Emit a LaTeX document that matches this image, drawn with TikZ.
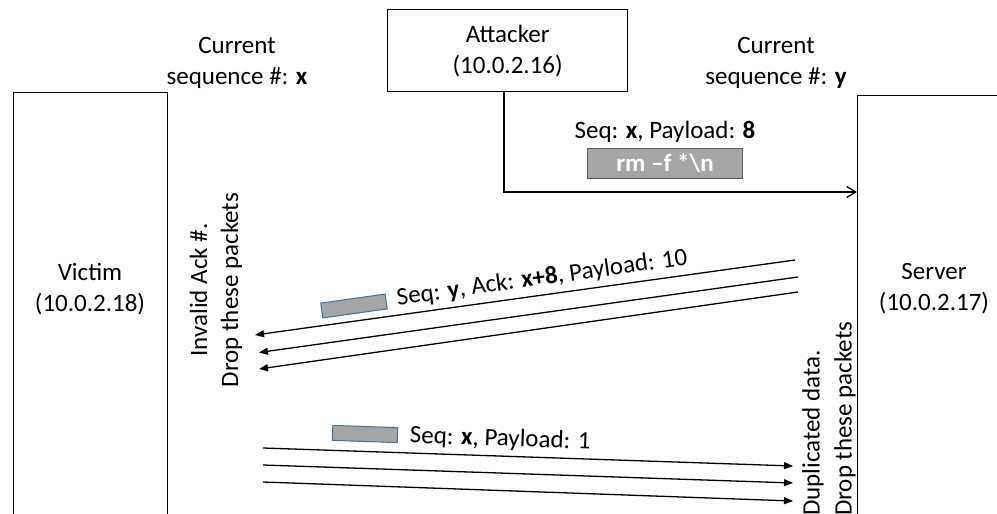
\documentclass[tikz,border=0pt]{standalone}
\usepackage{fontspec}
\setmainfont{Carlito}
\usetikzlibrary{arrows.meta}
\definecolor{pktgray}{HTML}{A6A6A6}
\definecolor{pktblue}{HTML}{41719C}
\definecolor{cmdedge}{HTML}{595959}
\begin{document}
\begin{tikzpicture}[x=1pt,y=-1pt,
  every node/.style={font=\fontsize{25}{31}\selectfont, inner sep=0pt},
  hostbox/.style={draw=black, line width=1.3pt, anchor=north west, minimum width=154pt, minimum height=460pt},
  packet/.style={draw=pktblue, fill=pktgray, line width=1pt, minimum width=65pt, minimum height=15pt},
  cmdbox/.style={draw=cmdedge, fill=pktgray, line width=1pt, minimum width=155pt, minimum height=30pt, text=white, font=\fontsize{25}{31}\selectfont\bfseries},
  flow/.style={line width=1.3pt, -{Triangle[length=9pt,width=7pt]}},
  inject/.style={line width=1.3pt, -{Straight Barb[length=9pt,width=11pt]}}]
\useasboundingbox (0,0) rectangle (997,514);
\clip (0,0) rectangle (997,514);

% hosts
\node[hostbox] (victim) at (13,92) {};
\node[hostbox] (server) at (857,95) {};
\node[draw=black, line width=1.3pt, anchor=north west, minimum width=240pt, minimum height=82pt, align=center] (attacker) at (387,9) {Attacker\\(10.0.2.16)};

\node[align=center] (victimlabel) at (90,289) {Victim\\(10.0.2.18)};
\node[align=center] (serverlabel) at (934,289) {Server\\(10.0.2.17)};

% sequence numbers
\node[align=center] (seqx) at (237,63) {Current\\sequence \#: \textbf{x}};
\node[align=center] (seqy) at (776,63) {Current\\sequence \#: \textbf{y}};

% injected packet from the attacker
\coordinate (turn) at (504,192);
\draw[inject] (attacker.south -| turn) -- (turn) -- (server.west |- turn);
\node (injlabel) at (665,132) {Seq: \textbf{x}, Payload: \textbf{8}};
\node[cmdbox] (cmd) at (665,163) {rm –f *\textbackslash n};

% server replies with the new ack number
\coordinate (ack1s) at (795,260);
\coordinate (ack1e) at (255,335);
\coordinate (ack2s) at (798,277);
\coordinate (ack2e) at (259,352.5);
\coordinate (ack3s) at (798,292);
\coordinate (ack3e) at (259,369);
\draw[flow] (ack1s) -- (ack1e);
\draw[flow] (ack2s) -- (ack2e);
\draw[flow] (ack3s) -- (ack3e);
\node[packet, rotate=8] (pktack) at (354,306) {};
\node[rotate=8, anchor=base] (acklabel) at (543,285) {Seq: \textbf{y}, Ack: \textbf{x+8}, Payload: 10};

% victim keeps sending with the old sequence number
\coordinate (dat1s) at (263,448);
\coordinate (dat1e) at (793,466);
\coordinate (dat2s) at (263,465);
\coordinate (dat2e) at (793,483);
\coordinate (dat3s) at (263,482);
\coordinate (dat3e) at (793,501);
\draw[flow] (dat1s) -- (dat1e);
\draw[flow] (dat2s) -- (dat2e);
\draw[flow] (dat3s) -- (dat3e);
\node[packet, rotate=-2] (pktdat) at (365,434) {};
\node[rotate=-2, anchor=base] (datlabel) at (500,446) {Seq: \textbf{x}, Payload: 1};

% notes on dropped packets
\node[rotate=90, align=center] (invalidnote) at (216,290) {Invalid Ack \#.\\Drop these packets};
\node[rotate=90, anchor=west] (dupnote1) at (813,516) {Duplicated data.};
\node[rotate=90, anchor=west] (dupnote2) at (845,516) {Drop these packets};
\end{tikzpicture}
\end{document}
